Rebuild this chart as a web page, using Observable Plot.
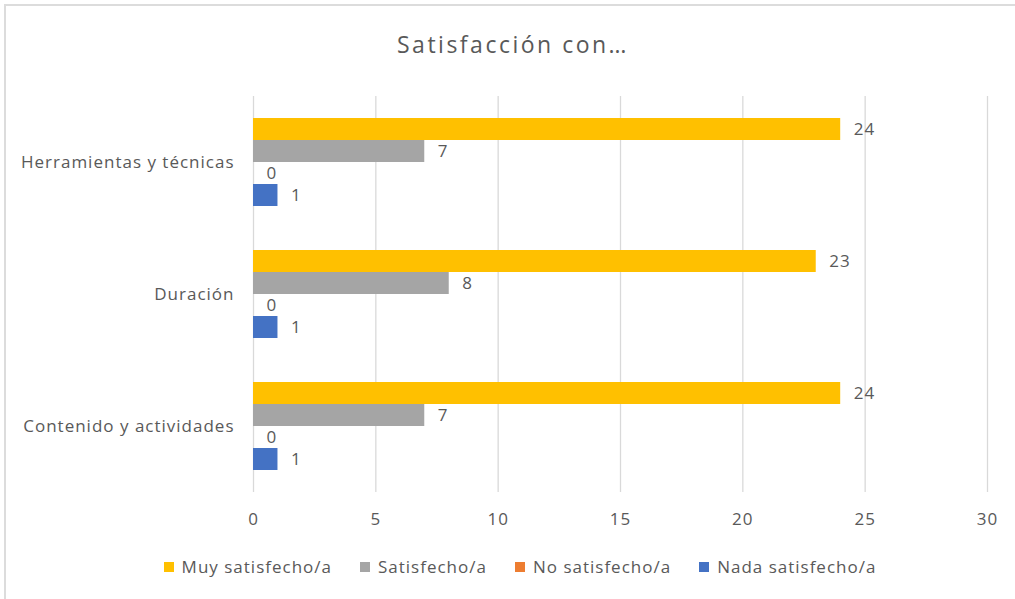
<!DOCTYPE html>
<html>
<head>
<meta charset="utf-8">
<script src="https://cdn.jsdelivr.net/npm/d3@7"></script>
<script src="https://cdn.jsdelivr.net/npm/@observablehq/plot@0.6"></script>
<style>
  html, body { margin: 0; padding: 0; background: #fff; }
  #wrap { position: relative; width: 1015px; height: 599px; overflow: hidden; font-family: "Open Sans", Lato, sans-serif; color: #595959; }
  #frame { position: absolute; left: 4px; top: 4px; right: -10px; bottom: -10px; border-left: 2px solid #dcdcdc; border-top: 2px solid #dcdcdc; }
  #title { position: absolute; left: 0; width: 1026px; top: 28px; text-align: center; font-size: 23px; letter-spacing: 2.5px; color: #595959; }
  #chart { position: absolute; left: 0; top: 0; }
  #legend { position: absolute; left: 0; width: 1040px; top: 555px; display: flex; justify-content: center; font-size: 17px; letter-spacing: 1px; color: #595959; }
  .item { display: flex; align-items: center; margin: 0 14px; }
  .sw { width: 10px; height: 10px; margin-right: 8px; }
  #chart svg text { letter-spacing: 1px; }
</style>
</head>
<body>
<div id="wrap">
  <div id="frame"></div>
  <div id="title">Satisfacción con…</div>
  <div id="chart"></div>
  <div id="legend"></div>
</div>
<script>
const categories = ["Herramientas y técnicas", "Duración", "Contenido y actividades"];
const series = ["Muy satisfecho/a", "Satisfecho/a", "No satisfecho/a", "Nada satisfecho/a"];
const colors = ["#FFC000", "#A5A5A5", "#ED7D31", "#4472C4"];
const valuesMuy = [24, 23, 24];
const valuesSatisfecho = [7, 8, 7];
const valuesNo = [0, 0, 0];
const valuesNada = [1, 1, 1];
const xTicks = [0, 5, 10, 15, 20, 25, 30];

const seriesValues = [valuesMuy, valuesSatisfecho, valuesNo, valuesNada];
const rows = [];
categories.forEach((c, i) => {
  series.forEach((s, j) => rows.push({category: c, series: s, value: seriesValues[j][i]}));
});

const chart = Plot.plot({
  width: 1015,
  height: 540,
  marginTop: 95,
  marginBottom: 48,
  marginLeft: 253,
  marginRight: 28,
  style: {fontFamily: "'Open Sans', Lato, sans-serif", fontSize: "17px", color: "#595959", background: "transparent"},
  x: {domain: [0, 30], ticks: xTicks, label: null, tickSize: 0, tickPadding: 20},
  y: {domain: series, paddingInner: 0, paddingOuter: 0.94, axis: null},
  fy: {domain: categories, padding: 0, axis: "left", label: null, tickSize: 0, tickPadding: 19},
  color: {domain: series, range: colors},
  marks: [
    Plot.gridX(xTicks, {stroke: "#d9d9d9", strokeOpacity: 1, strokeWidth: 1.3}),
    Plot.barX(rows, {x: "value", y: "series", fy: "category", fill: "series"}),
    Plot.text(rows, {x: "value", y: "series", fy: "category", text: d => String(d.value), textAnchor: "start", dx: 13, fill: "#595959", fontSize: 17})
  ]
});
document.getElementById("chart").appendChild(chart);

const legend = document.getElementById("legend");
series.forEach((s, i) => {
  const it = document.createElement("div");
  it.className = "item";
  const sw = document.createElement("span");
  sw.className = "sw";
  sw.style.background = colors[i];
  const t = document.createElement("span");
  t.textContent = s;
  it.appendChild(sw);
  it.appendChild(t);
  legend.appendChild(it);
});
</script>
</body>
</html>
